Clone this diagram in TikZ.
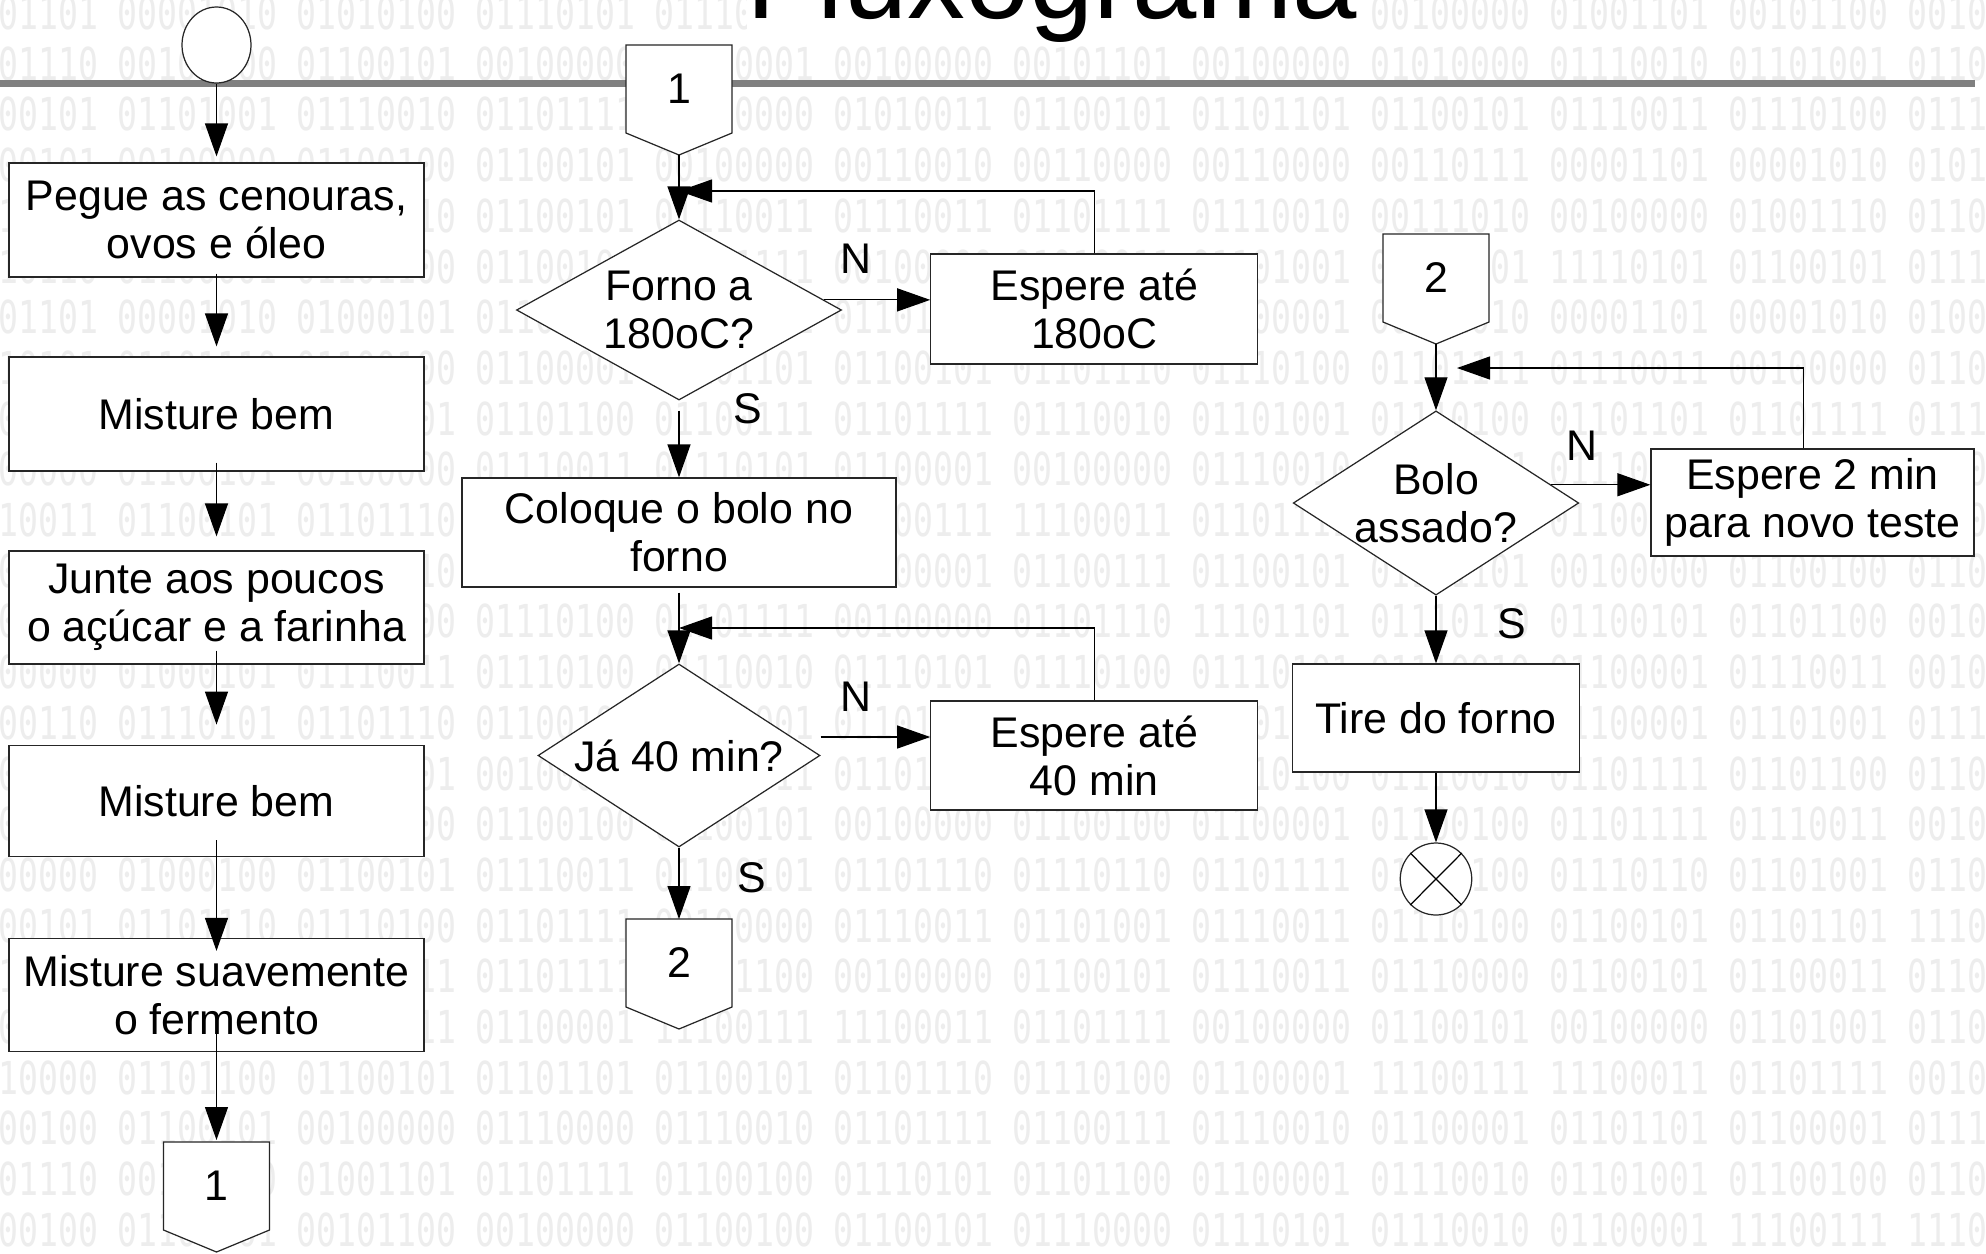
\documentclass[tikz,border=0pt]{standalone}
\usepackage{fontspec}
\setmainfont{Liberation Sans}
\newfontfamily\bitsfont[FakeStretch=0.73]{DejaVu Sans Mono}
\usetikzlibrary{arrows.meta,shapes.geometric}

% binary text in the background, one byte per group
\ExplSyntaxOn
\seq_new:N \g_bg_seq
\str_new:N \l_bg_str
\cs_new_protected:Npn \bg_add:n #1
  {
    \tl_set:Nx \l_tmpa_tl { \int_to_bin:n { #1 + 256 } }
    \seq_gput_right:Nx \g_bg_seq { \tl_tail:N \l_tmpa_tl }
  }
\cs_new_protected:Npn \bgencode #1
  {
    \str_set:Nn \l_bg_str {#1}
    \str_map_inline:Nn \l_bg_str
      {
        \str_if_eq:nnTF {##1} {|}
          { \bg_add:n {13} \bg_add:n {10} }
          { \bg_add:n { `##1 } }
      }
  }
\cs_new:Npn \bgbits #1 { \seq_item:Nn \g_bg_seq {#1} }
\ExplSyntaxOff

\bgencode{|Turmas M, N e Q - Primeiro Semestre de 2007|Professor: Nivaldo Simões|Ementa:|Fundamentos de Algoritmos e sua representação em linguagem de alto nível. Estruturas fundamentais de controle e de dados. Desenvolvimento sistemático, especificação e implementação de programas. Modularidade, depuração}

\begin{document}
\begin{tikzpicture}[x=0.1mm, y=-0.1mm,
  bits/.style={anchor=west, inner sep=0pt, text=black!7, font=\bitsfont\fontsize{12.9pt}{13pt}\selectfont},
  proc/.style={rectangle, draw=black!85, fill=white, line width=0.35pt, align=center, inner sep=0pt, font=\fontsize{12.2pt}{13.7pt}\selectfont},
  dec/.style={diamond, draw=black!85, fill=white, line width=0.35pt, align=center, inner sep=0pt, font=\fontsize{12.2pt}{13.7pt}\selectfont},
  term/.style={ellipse, draw=black!85, fill=white, line width=0.35pt, inner sep=0pt},
  conn/.style={draw=black!85, fill=white, line width=0.35pt},
  txt/.style={inner sep=0pt, font=\fontsize{12.2pt}{13.7pt}\selectfont},
  flow/.style={-{Triangle[length=3.3mm,width=2.3mm]}, line width=0.35pt}]

\useasboundingbox (0,0) rectangle (1986,1254);
\clip (0,0) rectangle (1986,1254);
\fill[white] (0,0) rectangle (1986,1254);

% Background
\foreach \ro in {0,...,24}
  \foreach \co in {0,...,11}
    \node[bits] at (-62+179*\co, 13+50.7*\ro) {\bgbits{\ro*12+\co+1}};

% Title bar
\draw[line width=0.7mm, gray] (0,83.5) -- (1975,83.5);
\node[anchor=base, fill=white, inner sep=0pt, font=\fontsize{32.9pt}{36pt}\selectfont] (titulo) at (1052,18) {Fluxograma};

% Connectors 1 and 2
\foreach \n/\x/\y/\t in {c1a/216.5/1142/1, c1b/679/45/1, c2a/679/919/2, c2b/1436/234/2}{
  \filldraw[conn] (\x-53,\y) -- (\x+53,\y) -- (\x+53,\y+88) -- (\x,\y+110) -- (\x-53,\y+88) -- cycle;
  \node[txt] (\n) at (\x,\y+44) {\t};
  \coordinate (\n-top) at (\x,\y);
  \coordinate (\n-tip) at (\x,\y+110);
}

% Left column
\node[term, minimum width=6.9mm, minimum height=7.6mm] (ini) at (216.5,45) {};
\node[proc, minimum width=41.5mm, minimum height=11.4mm] (b1) at (216.5,220) {Pegue as cenouras,\\ovos e óleo};
\node[proc, minimum width=41.5mm, minimum height=11.4mm] (b2) at (216.5,414) {Misture bem};
\node[proc, minimum width=41.5mm, minimum height=11.3mm] (b3) at (216.5,607.5) {Junte aos poucos\\o açúcar e a farinha};
\node[proc, minimum width=41.5mm, minimum height=11.1mm] (b4) at (216.5,800.7) {Misture bem};
\node[proc, minimum width=41.5mm, minimum height=11.3mm] (b5) at (216.5,995) {Misture suavemente\\o fermento};

\draw[flow, shorten >=0.6mm] (ini) -- (b1);
\draw[flow, shorten <=-0.4mm, shorten >=1mm] (b1) -- (b2);
\draw[flow, shorten <=-0.9mm, shorten >=1.4mm] (b2) -- (b3);
\draw[flow, shorten <=-1.4mm, shorten >=2mm] (b3) -- (b4);
\draw[flow, shorten <=-1.65mm, shorten >=-1.3mm] (b4) -- (b5);
\draw[flow, shorten <=-2.3mm, shorten >=0.2mm] (b5) -- (c1a-top);

% Middle column
\node[dec, aspect=1.8, minimum width=32.5mm, minimum height=18mm] (d1) at (679,310) {Forno a\\180oC?};
\node[proc, minimum width=32.7mm, minimum height=11mm] (w1) at (1094.3,309) {Espere até\\180oC};
\node[proc, minimum width=43.4mm, minimum height=10.9mm] (b6) at (679,532.5) {Coloque o bolo no\\forno};
\node[dec, aspect=1.54, minimum width=28.2mm, minimum height=18.3mm] (d2) at (679,755.5) {Já 40 min?};
\node[proc, minimum width=32.7mm, minimum height=10.9mm] (w2) at (1094.3,755.5) {Espere até\\40 min};
\coordinate (j1) at (679,191);
\coordinate (j2) at (679,628);

\draw[flow] (c1b-tip) -- (d1);
\draw[flow] (d1.4) -- (d1.4 -| w1.west);
\draw[flow] (w1.north) |- (j1);
\draw[flow, shorten <=1mm] (d1) -- (b6);
\draw[flow, shorten <=0.5mm] (b6) -- (d2);
\draw[flow] ([yshift=1.85mm]d2.east) -- ([yshift=1.85mm]d2.east -| w2.west);
\draw[flow] (w2.north) |- (j2);
\draw[flow] (d2) -- (c2a-top);

\node[txt] (n1) at (856,259) {N};
\node[txt] (s1) at (748,409) {S};
\node[txt] (n2) at (856,697) {N};
\node[txt] (s2) at (752,878) {S};

% Right column
\node[dec, aspect=1.55, minimum width=28mm, minimum height=18mm] (d3) at (1436,503) {Bolo\\assado?};
\node[proc, minimum width=32.3mm, minimum height=10.7mm] (w3) at (1812.5,502.5) {Espere 2 min\\para novo teste};
\node[proc, minimum width=28.7mm, minimum height=10.8mm] (b7) at (1436,718) {Tire do forno};
\node[term, minimum width=7.15mm, minimum height=7.2mm] (fim) at (1436,879) {};
\draw[line width=0.35pt] (fim.north east) -- (fim.south west) (fim.north west) -- (fim.south east);
\coordinate (j3) at (1457,368);

\draw[flow] (c2b-tip) -- (d3);
\draw[flow] (d3.9) -- (d3.9 -| w3.west);
\draw[flow] ([xshift=-0.9mm]w3.north) |- (j3);
\draw[flow] (d3) -- (b7);
\draw[flow] (b7) -- (fim);

\node[txt] (n3) at (1582,446) {N};
\node[txt] (s3) at (1512,624) {S};

\end{tikzpicture}
\end{document}
